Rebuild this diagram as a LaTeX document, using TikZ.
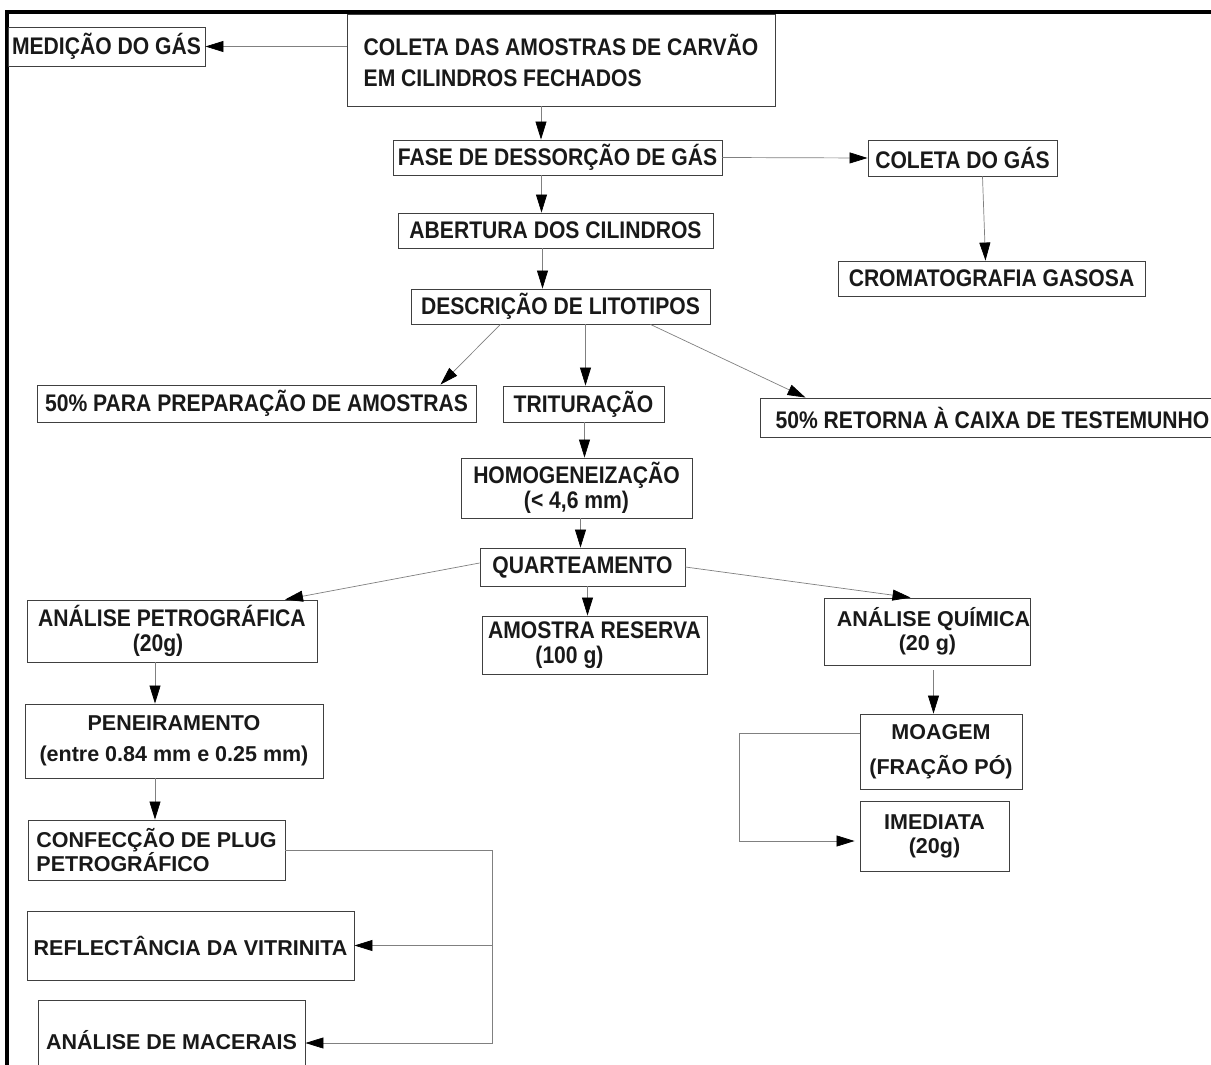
\documentclass[tikz,border=0pt]{standalone}
\usepackage{fontspec}
\setmainfont{Liberation Sans}
\newfontfamily\narrowsf[FakeStretch=0.88]{Liberation Sans}
\usetikzlibrary{arrows.meta}

\tikzset{
  box/.style={draw=black!75, line width=0.9pt, inner sep=0pt, align=center, text=black!90},
  slim/.style={font=\narrowsf\bfseries\fontsize{24}{25}\selectfont},
  wide/.style={font=\bfseries\fontsize{21.5}{24}\selectfont},
  arr/.style={draw=black!50, line width=0.7pt, -{Triangle[length=18pt,width=11pt,color=black]}},
}

\begin{document}
\begin{tikzpicture}[x=1pt,y=-1pt]

        \useasboundingbox (0,0) rectangle (1211,1065);
        \fill[white] (0,0) rectangle (1211,1065);
        \draw[line width=3.4pt] (7,1070) |- (1215,12);

        \begin{scope}[every node/.style={box,slim}]
          \node[minimum width=197pt,minimum height=39pt] (med) at (106.5,46.5) {MEDIÇÃO DO GÁS};
          \node[minimum width=428pt,minimum height=92pt,align=left,
                font=\narrowsf\bfseries\fontsize{24}{31}\selectfont] (col) at (561,60)
                {COLETA DAS AMOSTRAS DE CARVÃO\\EM CILINDROS FECHADOS};
          \node[minimum width=329pt,minimum height=35pt] (fase) at (557.5,157.5) {FASE DE DESSORÇÃO DE GÁS};
          \node[minimum width=189pt,minimum height=36pt] (cgas) at (962.5,158) {COLETA DO GÁS};
          \node[minimum width=307pt,minimum height=35pt] (crom) at (991.5,278.5) {CROMATOGRAFIA GASOSA};
          \node[minimum width=315pt,minimum height=35pt] (abert) at (555.5,230.5) {ABERTURA DOS CILINDROS};
          \node[minimum width=299pt,minimum height=35pt] (desc) at (560.5,306.5) {DESCRIÇÃO DE LITOTIPOS};
          \node[minimum width=439pt,minimum height=37pt] (prep) at (256.5,403.5) {50\% PARA PREPARAÇÃO DE AMOSTRAS};
          \node[minimum width=161pt,minimum height=36pt] (trit) at (583.5,404) {TRITURAÇÃO};
          \node[minimum width=465pt,minimum height=39pt] (ret) at (992.5,417.5) {50\% RETORNA À CAIXA DE TESTEMUNHO};
          \node[minimum width=231pt,minimum height=60pt] (homo) at (576.5,488) {HOMOGENEIZAÇÃO\\(< 4,6 mm)};
          \node[minimum width=205pt,minimum height=38pt] (quart) at (582.5,567) {QUARTEAMENTO};
          \node[minimum width=290pt,minimum height=62pt] (petro) at (172,631) {ANÁLISE PETROGRÁFICA\\(20g)\hspace*{28pt}};
          \node[minimum width=225pt,minimum height=58pt] (res) at (594.5,645) {AMOSTRA RESERVA\\(100 g)\hspace*{50pt}};
        \end{scope}

        \begin{scope}[every node/.style={box,wide}]
          \node[minimum width=205pt,minimum height=67pt] (quim) at (927.5,631.5) {\hspace*{12pt}ANÁLISE QUÍMICA\\(20 g)};
          \node[minimum width=162pt,minimum height=75pt,
                font=\bfseries\fontsize{21.5}{35}\selectfont] (moag) at (941,751.5) {MOAGEM\\(FRAÇÃO PÓ)};
          \node[minimum width=149pt,minimum height=70pt] (imed) at (934.5,836) {IMEDIATA\\(20g)};
          \node[minimum width=298pt,minimum height=74pt,
                font=\bfseries\fontsize{21.5}{31}\selectfont] (pen) at (174,741) {PENEIRAMENTO\\(entre 0.84 mm e 0.25 mm)};
          \node[minimum width=257pt,minimum height=60pt,align=left,
                font=\bfseries\fontsize{21.5}{23}\selectfont] (conf) at (156.5,850) {CONFECÇÃO DE PLUG\\PETROGRÁFICO};
          \node[minimum width=327pt,minimum height=69pt] (refl) at (190.5,945.5) {REFLECTÂNCIA DA VITRINITA};
          \node[minimum width=267pt,minimum height=80pt] (mac) at (171.5,1040) {ANÁLISE DE MACERAIS};
        \end{scope}

        \coordinate (trunk) at (492,1043);
        \coordinate (loop) at (739,841);

        \begin{scope}[every path/.style={arr}]
          \draw (col.west |- med.east) -- (med.east);
          \draw ([xshift=-20pt]col.south) -- ([xshift=-20pt]col.south |- fase.north);
          \draw (fase.east) -- (cgas.west);
          \draw ([xshift=20pt]cgas.south) -- ([xshift=-6pt]crom.north);
          \draw ([xshift=-16pt]fase.south) -- ([xshift=-16pt]fase.south |- abert.north);
          \draw ([xshift=-13pt]abert.south) -- ([xshift=-13pt]abert.south |- desc.north);
          \draw ([xshift=-60pt]desc.south) -- ([xshift=184pt]prep.north);
          \draw ([xshift=25pt]desc.south) -- ([xshift=25pt]desc.south |- trit.north);
          \draw ([xshift=90pt]desc.south) -- ([xshift=-187pt]ret.north);
          \draw ([xshift=1pt]trit.south) -- ([xshift=1pt]trit.south |- homo.north);
          \draw ([xshift=4pt]homo.south) -- ([xshift=4pt]homo.south |- quart.north);
          \draw ([yshift=4pt]quart.west) -- ([xshift=113pt]petro.north);
          \draw ([xshift=5pt]quart.south) -- ([xshift=5pt]quart.south |- res.north);
          \draw (quart.east) -- ([xshift=-17pt]quim.north);
          \draw ([xshift=6pt,yshift=-5pt]quim.south) -- ([xshift=6pt]quim.south |- moag.north);
          \draw ([yshift=18pt]moag.west) -| (loop) -- ([xshift=-5pt]imed.west |- loop);
          \draw ([xshift=-17pt]petro.south) -- ([xshift=-17pt]petro.south |- pen.north);
          \draw ([xshift=-19pt]pen.south) -- ([xshift=-19pt]pen.south |- conf.north);
          \draw (conf.east) -| (trunk) -- (mac.east |- trunk);
          \draw (refl.east -| trunk) -- (refl.east);
        \end{scope}

\end{tikzpicture}
\end{document}
